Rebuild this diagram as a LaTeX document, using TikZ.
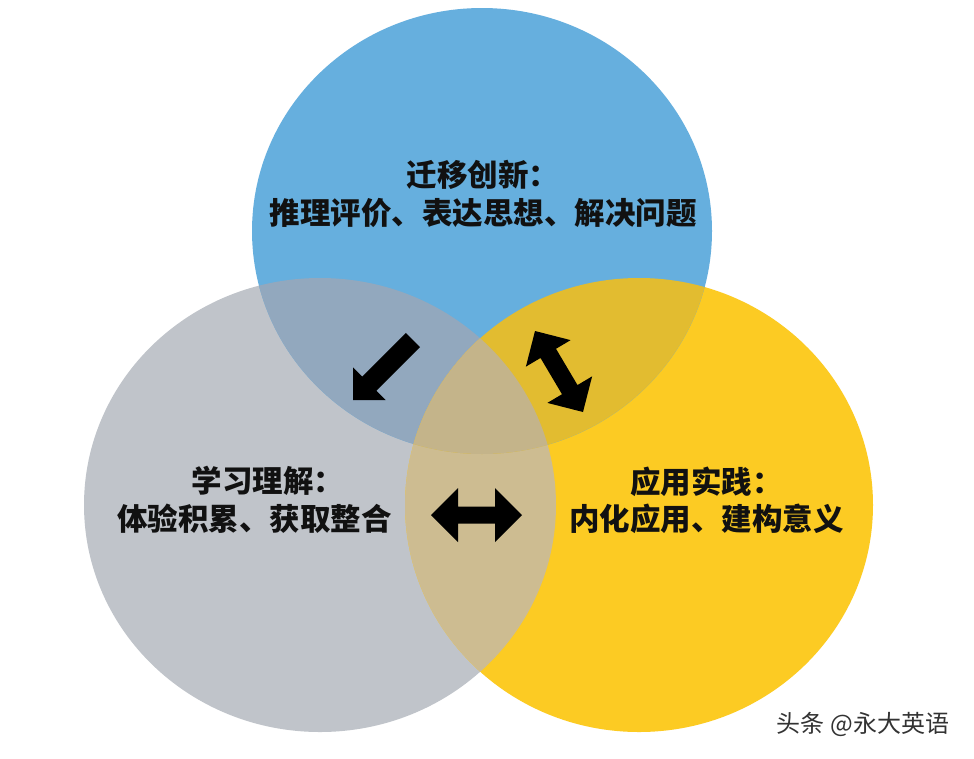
\documentclass[tikz,border=0pt]{standalone}
\usepackage{fontspec}
\newfontfamily\cjk{Noto Sans CJK SC}
\usetikzlibrary{calc}
\definecolor{cBlue}{HTML}{66AFDE}
\definecolor{cGray}{HTML}{C0C4CA}
\definecolor{cYellow}{HTML}{FCCB23}
\definecolor{cBG}{HTML}{92A8BE}
\definecolor{cBY}{HTML}{E2BC30}
\definecolor{cGY}{HTML}{CDBC91}
\definecolor{cBGY}{HTML}{C4B48A}
\definecolor{cInk}{HTML}{111111}
\definecolor{cMark}{HTML}{333333}
\tikzset{
  blockarrow/.style={fill=black},
  label text/.style={font=\cjk\bfseries\fontsize{30.5}{37.5}\selectfont, text=cInk, align=center, inner sep=0pt},
  mark text/.style={font=\cjk\fontsize{24}{28}\selectfont, text=cMark, inner sep=0pt}
}
% tail, tip, head length, head half-width, shaft half-width
\newcommand\vennSingleArrow[5]{%
  \coordinate (vaQ) at ($(#2)!#3!(#1)$);
  \fill[blockarrow] ($(#1)!#5!90:(#2)$) -- ($(vaQ)!#5!90:(#2)$) -- ($(vaQ)!#4!90:(#2)$) -- (#2)
    -- ($(vaQ)!#4!-90:(#2)$) -- ($(vaQ)!#5!-90:(#2)$) -- ($(#1)!#5!-90:(#2)$) -- cycle;
}
% tip A, tip B, head length, head half-width, shaft half-width
\newcommand\vennDoubleArrow[5]{%
  \coordinate (vaP) at ($(#1)!#3!(#2)$);
  \coordinate (vaQ) at ($(#2)!#3!(#1)$);
  \fill[blockarrow] (#1) -- ($(vaP)!#4!90:(#2)$) -- ($(vaP)!#5!90:(#2)$) -- ($(vaQ)!#5!90:(#2)$)
    -- ($(vaQ)!#4!90:(#2)$) -- (#2) -- ($(vaQ)!#4!-90:(#2)$) -- ($(vaQ)!#5!-90:(#2)$)
    -- ($(vaP)!#5!-90:(#2)$) -- ($(vaP)!#4!-90:(#2)$) -- cycle;
}
\begin{document}
\begin{tikzpicture}[x=1pt,y=-1pt]
\useasboundingbox (0,0) rectangle (974,758);
\fill[white] (0,0) rectangle (974,758);
% circles
\def\grayE{(320,505) ellipse [x radius=236pt, y radius=227pt]}
\def\yellowE{(639,505) ellipse [x radius=234pt, y radius=227pt]}
\def\blueE{(482,231) ellipse [x radius=230pt, y radius=223pt]}
\fill[cGray] \grayE;
\fill[cYellow] \yellowE;
\fill[cBlue] \blueE;
\begin{scope}
  \clip \grayE;
  \fill[cBG] \blueE;
  \fill[cGY] \yellowE;
\end{scope}
\begin{scope}
  \clip \yellowE;
  \fill[cBY] \blueE;
\end{scope}
\begin{scope}
  \clip \grayE;
  \clip \yellowE;
  \fill[cBGY] \blueE;
\end{scope}
% labels
\node[label text] (tBlue) at (483,194) {迁移创新：\\推理评价、表达思想、解决问题};
\node[label text] (tGray) at (254.5,500) {\hspace*{0.9em}学习理解：\\体验积累、获取整合};
\node[label text] (tYellow) at (706.5,500.5) {应用实践：\\内化应用、建构意义};
% arrows
\coordinate (a1tail) at (413,340);
\coordinate (a1tip) at (353,400);
\vennSingleArrow{a1tail}{a1tip}{23pt}{23pt}{10pt}
\coordinate (a2top) at (535,331);
\coordinate (a2bot) at (583,412);
\vennDoubleArrow{a2top}{a2bot}{26pt}{26pt}{9pt}
\coordinate (a3left) at (431,515);
\coordinate (a3right) at (522,515);
\vennDoubleArrow{a3left}{a3right}{27pt}{27pt}{8.5pt}
% watermark
\node[mark text] (wm) at (863,724) {头条 @永大英语};
\end{tikzpicture}
\end{document}
